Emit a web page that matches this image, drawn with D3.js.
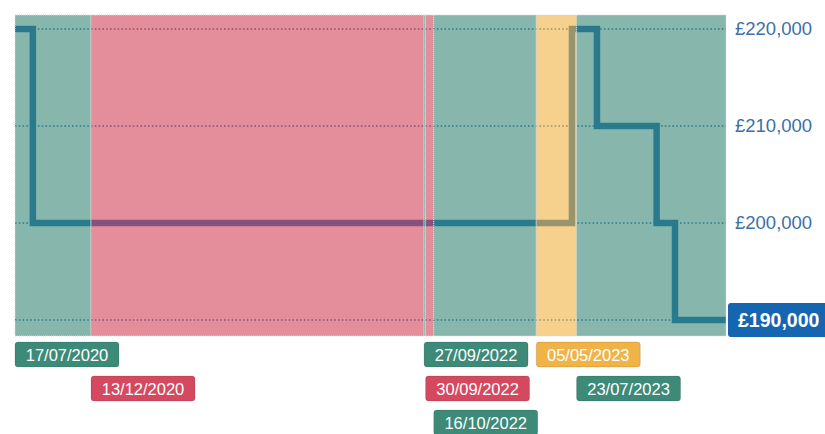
<!DOCTYPE html>
<html>
<head>
<meta charset="utf-8">
<script src="https://cdn.jsdelivr.net/npm/d3@7"></script>
<style>
  body { margin: 0; background: #fff; }
  text { font-family: "Liberation Sans", Arial, sans-serif; }
</style>
</head>
<body>
<svg id="chart"></svg>
<script>
// status changes (date, status)
const statusDates = ["2020-07-17", "2020-12-13", "2022-09-27", "2022-09-30", "2022-10-16", "2023-05-05", "2023-07-23"];
const statusKinds = ["sale", "offer", "sale", "offer", "sale", "pending", "sale"];
const endDate = "2024-05-11";

// asking price steps
const priceDates = ["2020-07-17", "2020-08-21", "2023-07-14", "2023-09-01", "2023-12-27", "2024-02-01"];
const priceValues = [220000, 200000, 220000, 210000, 200000, 190000];

const priceTicks = [190000, 200000, 210000, 220000];

const colors = { sale: "#3d8a79", offer: "#d4495f", pending: "#f0b347" };

const width = 825, height = 434;
const margin = { top: 15, right: 99, bottom: 98, left: 15 };

const parse = d3.timeParse("%Y-%m-%d");
const fmt = d3.timeFormat("%d/%m/%Y");
const money = v => "£" + d3.format(",")(v);

const svg = d3.select("#chart").attr("width", width).attr("height", height);

const x = d3.scaleTime()
    .domain([parse(statusDates[0]), parse(endDate)])
    .range([margin.left, width - margin.right]);
const y = d3.scaleLinear()
    .domain([188350, 221450])
    .range([height - margin.bottom, margin.top]);

const bands = statusDates.map((d, i) => ({
    start: parse(d),
    end: parse(i < statusDates.length - 1 ? statusDates[i + 1] : endDate),
    kind: statusKinds[i]
}));

const steps = priceDates.map((d, i) => ({ date: parse(d), value: priceValues[i] }));
steps.push({ date: parse(endDate), value: priceValues[priceValues.length - 1] });

// grid
svg.append("g").selectAll("line")
    .data(priceTicks)
    .join("line")
    .attr("x1", x.range()[0])
    .attr("x2", x.range()[1])
    .attr("y1", d => y(d))
    .attr("y2", d => y(d))
    .attr("stroke", "#1c5ea4")
    .attr("stroke-width", 1.6)
    .attr("stroke-dasharray", "1.6,2.2");

// price line (under the bands)
const line = d3.line()
    .x(d => x(d.date))
    .y(d => y(d.value))
    .curve(d3.curveStepAfter);

svg.append("path")
    .datum(steps)
    .attr("d", line)
    .attr("fill", "none")
    .attr("stroke", "#0d5fae")
    .attr("stroke-width", 6.5);

// status bands
svg.append("g").selectAll("rect")
    .data(bands)
    .join("rect")
    .attr("x", d => x(d.start))
    .attr("width", d => x(d.end) - x(d.start))
    .attr("y", margin.top)
    .attr("height", height - margin.bottom - margin.top)
    .attr("fill", d => colors[d.kind])
    .attr("fill-opacity", 0.62)
    .attr("stroke", "#d8d8d8")
    .attr("stroke-width", 1)
    .attr("stroke-dasharray", "1,1");

// right axis
const yAxis = svg.append("g")
    .attr("transform", `translate(${x.range()[1] + 9},0)`)
    .call(d3.axisRight(y).tickValues(priceTicks).tickSize(0).tickFormat(money));
yAxis.select(".domain").remove();
yAxis.selectAll("text")
    .attr("x", 0)
    .attr("fill", "#3d6fa6")
    .style("font-size", "18.5px");

// current price highlight
const current = priceValues[priceValues.length - 1];
yAxis.selectAll(".tick").filter(d => d === current).select("text").remove();
const cur = svg.append("g").attr("transform", `translate(${x.range()[1] + 2},${y(current)})`);
cur.append("rect")
    .attr("x", 0).attr("y", -17)
    .attr("width", 110).attr("height", 34)
    .attr("rx", 3)
    .attr("fill", "#1565b0");
cur.append("text")
    .attr("x", 10).attr("y", 7)
    .attr("fill", "#fff")
    .style("font-size", "19.5px")
    .style("font-weight", "bold")
    .text(money(current));

// date labels, stacked in rows so they do not overlap
const boxW = 104, boxH = 25, rowStep = 34, rowTop = height - margin.bottom + 6;
const rowEnds = [];
const labels = bands.map(b => {
    const bx = x(b.start);
    let row = rowEnds.findIndex(e => e <= bx);
    if (row < 0) { row = rowEnds.length; rowEnds.push(0); }
    rowEnds[row] = bx + boxW;
    return { x: bx, row: row, kind: b.kind, text: fmt(b.start) };
});

const lab = svg.append("g").selectAll("g")
    .data(labels)
    .join("g")
    .attr("transform", d => `translate(${d.x},${rowTop + d.row * rowStep})`);
lab.append("rect")
    .attr("width", boxW)
    .attr("height", boxH)
    .attr("rx", 3)
    .attr("fill", d => colors[d.kind])
    .attr("stroke", "rgba(0,0,0,0.12)");
lab.append("text")
    .attr("x", boxW / 2)
    .attr("y", 18.5)
    .attr("text-anchor", "middle")
    .attr("fill", "#fff")
    .style("font-size", "16.5px")
    .text(d => d.text);
</script>
</body>
</html>
